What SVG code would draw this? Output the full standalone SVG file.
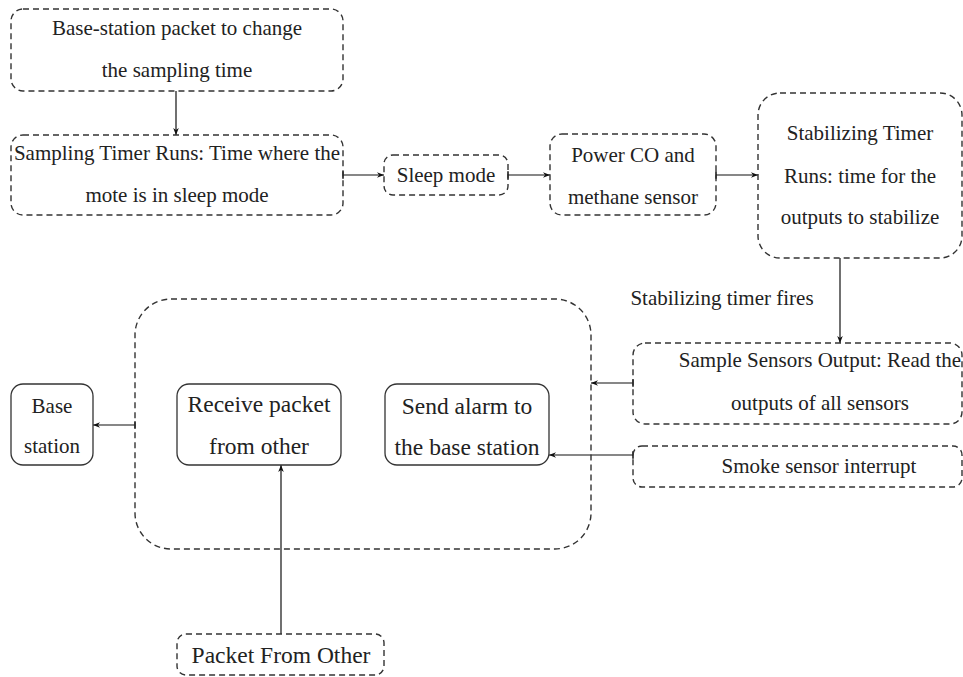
<svg xmlns="http://www.w3.org/2000/svg" width="963" height="677" viewBox="0 0 963 677">
<defs>
<style>
text{font-family:'Liberation Serif',serif !important;fill:#222;text-anchor:middle;dominant-baseline:central}
.s{font-size:21px}
.l{font-size:23.5px}
.d{fill:none;stroke:#333;stroke-width:1.4;stroke-dasharray:6 4}
.b{fill:none;stroke:#333;stroke-width:1.3}
.c{fill:none;stroke:#111;stroke-width:1.2;marker-end:url(#ah)}
.cb{fill:none;stroke:#111;stroke-width:1.2;marker-end:url(#ah);marker-start:url(#bar)}
</style>
<marker id="ah" viewBox="0 0 10 10" refX="10" refY="5" markerWidth="7" markerHeight="7" markerUnits="userSpaceOnUse" orient="auto"><path d="M0,1 L10,5 L0,9 L3,5 Z" fill="#111"/></marker>
<marker id="bar" viewBox="0 0 2 10" refX="1" refY="5" markerWidth="1.5" markerHeight="9" markerUnits="userSpaceOnUse" orient="auto"><rect x="0" y="0" width="2" height="10" fill="#111"/></marker>
</defs>
<rect width="963" height="677" fill="#fff"/>
<g id="connectors">
<path class="c" d="M176,91 V135"/>
<path class="cb" d="M343,175 H384"/>
<path class="cb" d="M508,175 H550"/>
<path class="cb" d="M716,175 H758"/>
<path class="c" d="M840,258 V343"/>
<text class="s" x="722" y="298" style="font-family:'Liberation Serif',serif">Stabilizing timer fires</text>
<path class="cb" d="M633,383 H591"/>
<path class="cb" d="M633,455 H549"/>
<path class="cb" d="M135,425 H93"/>
<path class="c" d="M281,634 V465"/>
</g>
<g id="base-packet">
<rect class="d" x="11" y="9" width="332" height="82" rx="12"/>
<text class="s" x="177" y="28" style="font-family:'Liberation Serif',serif">Base-station packet to change</text>
<text class="s" x="177" y="70" style="font-family:'Liberation Serif',serif">the sampling time</text>
</g>
<g id="sampling-timer">
<rect class="d" x="11" y="135" width="332" height="80" rx="12"/>
<text class="s" x="177" y="153" style="font-family:'Liberation Serif',serif">Sampling Timer Runs: Time where the</text>
<text class="s" x="177" y="195" style="font-family:'Liberation Serif',serif">mote is in sleep mode</text>
</g>
<g id="sleep-mode">
<rect class="d" x="384" y="155" width="124" height="40" rx="9"/>
<text class="s" x="446" y="175" style="font-family:'Liberation Serif',serif">Sleep mode</text>
</g>
<g id="power-sensor">
<rect class="d" x="550" y="134" width="166" height="81" rx="12"/>
<text class="s" x="633" y="155" style="font-family:'Liberation Serif',serif">Power CO and</text>
<text class="s" x="633" y="197" style="font-family:'Liberation Serif',serif">methane sensor</text>
</g>
<g id="stabilizing-timer">
<rect class="d" x="758" y="93" width="204" height="165" rx="22"/>
<text class="s" x="860" y="133" style="font-family:'Liberation Serif',serif">Stabilizing Timer</text>
<text class="s" x="860" y="176" style="font-family:'Liberation Serif',serif">Runs: time for the</text>
<text class="s" x="860" y="217" style="font-family:'Liberation Serif',serif">outputs to stabilize</text>
</g>
<g id="sample-sensors">
<rect class="d" x="633" y="343" width="329" height="81" rx="12"/>
<text class="s" x="820" y="360" style="font-family:'Liberation Serif',serif">Sample Sensors Output: Read the</text>
<text class="s" x="820" y="403" style="font-family:'Liberation Serif',serif">outputs of all sensors</text>
</g>
<g id="smoke-sensor">
<rect class="d" x="633" y="446" width="329" height="41" rx="9"/>
<text class="s" x="819" y="466" style="font-family:'Liberation Serif',serif">Smoke sensor interrupt</text>
</g>
<g id="container">
<rect class="d" x="135" y="299" width="456" height="250" rx="36"/>
</g>
<g id="receive-packet">
<rect class="b" x="177" y="384" width="164" height="81" rx="12"/>
<text class="l" x="259" y="404" style="font-family:'Liberation Serif',serif">Receive packet</text>
<text class="l" x="259" y="446" style="font-family:'Liberation Serif',serif">from other</text>
</g>
<g id="send-alarm">
<rect class="b" x="385" y="384" width="164" height="81" rx="12"/>
<text class="l" x="467" y="406" style="font-family:'Liberation Serif',serif">Send alarm to</text>
<text class="l" x="467" y="447" style="font-family:'Liberation Serif',serif">the base station</text>
</g>
<g id="base-station">
<rect class="b" x="11" y="384" width="82" height="81" rx="12"/>
<text class="s" x="52" y="406" style="font-family:'Liberation Serif',serif">Base</text>
<text class="s" x="52" y="446" style="font-family:'Liberation Serif',serif">station</text>
</g>
<g id="packet-from-other">
<rect class="d" x="177" y="634" width="207" height="41" rx="9"/>
<text class="l" x="281" y="655" style="font-family:'Liberation Serif',serif">Packet From Other</text>
</g>
</svg>
